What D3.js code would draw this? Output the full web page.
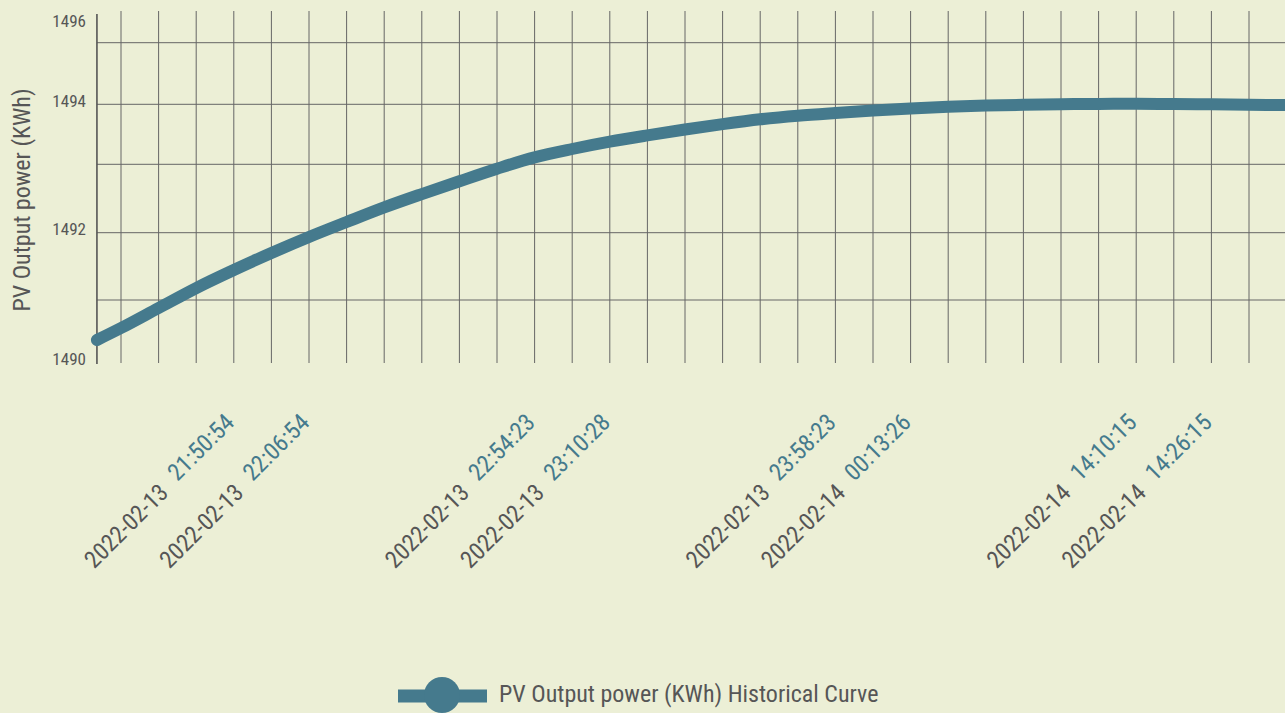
<!DOCTYPE html>
<html>
<head>
<meta charset="utf-8">
<script src="https://cdn.jsdelivr.net/npm/d3@7"></script>
<style>
  html, body { margin: 0; padding: 0; background: #ecefd6; overflow: hidden; }
  svg { display: block; font-family: "Roboto Condensed", Roboto, sans-serif; }
</style>
</head>
<body>
<svg width="1285" height="713"></svg>
<script>
const svg = d3.select('svg');

const width = +svg.attr('width');
const height = +svg.attr('height');

// samples along the category axis; the first one sits on the y axis, before the first tick
const sampleIdx = [-0.64, 0, 1, 2, 3, 4, 5, 6, 7, 8, 9, 10, 11, 12, 13, 14, 15,
  16, 17, 18, 19, 20, 21, 22, 23, 24, 25, 26, 27, 28, 29, 30, 31];
const power = [1490.355, 1490.548, 1490.871, 1491.178, 1491.446, 1491.698, 1491.936,
  1492.156, 1492.37, 1492.565, 1492.752, 1492.935, 1493.115, 1493.255, 1493.377,
  1493.482, 1493.58, 1493.67, 1493.75, 1493.81, 1493.855, 1493.895, 1493.93,
  1493.958, 1493.978, 1493.992, 1494.001, 1494.006, 1494.008, 1494.005, 1494.0,
  1493.993, 1493.987];

// labelled ticks
const labelIdx = [3, 5, 11, 13, 19, 21, 27, 29];
const labelDates = ['2022-02-13', '2022-02-13', '2022-02-13', '2022-02-13',
  '2022-02-13', '2022-02-14', '2022-02-14', '2022-02-14'];
const labelTimes = ['21:50:54', '22:06:54', '22:54:23', '23:10:28',
  '23:58:23', '00:13:26', '14:10:15', '14:26:15'];

const yTickValues = [1490, 1492, 1494, 1496];
const yGridValues = [1491, 1492, 1493, 1494, 1495];

const seriesName = 'PV Output power (KWh) Historical Curve';
const yTitle = 'PV Output power (KWh)';

const lineColor = '#457a8d';
const textColor = '#565656';
const gridColor = '#666';

const render = () => {
  const xScale = d3.scaleLinear()
    .domain([0, 30])
    .range([121, 1249]);

  // the grid rows are not quite evenly spaced in the original
  const yScale = d3.scaleLinear()
    .domain([1490, 1491, 1492, 1493, 1494, 1495, 1496])
    .range([362, 300, 232.7, 164.3, 104.3, 42.7, 24]);

  const left = xScale(sampleIdx[0]);

  // vertical grid
  svg.append('g').selectAll('line').data(d3.range(0, 31))
    .enter().append('line')
      .attr('x1', d => xScale(d))
      .attr('x2', d => xScale(d))
      .attr('y1', 11)
      .attr('y2', 363)
      .attr('stroke', gridColor)
      .attr('stroke-width', 1);

  // horizontal grid
  svg.append('g').selectAll('line').data(yGridValues)
    .enter().append('line')
      .attr('x1', left)
      .attr('x2', width)
      .attr('y1', d => yScale(d))
      .attr('y2', d => yScale(d))
      .attr('stroke', gridColor)
      .attr('stroke-width', 1);

  // y axis
  const yAxis = d3.axisLeft(yScale)
    .tickValues(yTickValues)
    .tickFormat(d3.format('d'))
    .tickSize(0)
    .tickPadding(11);

  const yAxisG = svg.append('g')
    .attr('transform', `translate(${left},0)`)
    .call(yAxis);
  yAxisG.select('.domain').remove();
  yAxisG.selectAll('text')
    .attr('font-size', 17)
    .attr('font-family', '"Roboto Condensed", Roboto, sans-serif')
    .attr('fill', textColor)
    .attr('dy', 2);

  svg.append('line')
    .attr('x1', left).attr('x2', left)
    .attr('y1', 14).attr('y2', 364)
    .attr('stroke', '#555')
    .attr('stroke-width', 1.6);

  svg.append('text')
    .attr('transform', `translate(30,200) rotate(-90)`)
    .attr('text-anchor', 'middle')
    .attr('font-size', 24)
    .attr('fill', textColor)
    .text(yTitle);

  // x labels
  const labels = svg.append('g').selectAll('text').data(labelIdx)
    .enter().append('text')
      .attr('transform', d => `translate(${xScale(d) + 4},426) rotate(-45)`)
      .attr('text-anchor', 'end')
      .attr('font-size', 24);
  labels.append('tspan')
    .attr('fill', textColor)
    .text((d, i) => labelDates[i]);
  labels.append('tspan')
    .attr('fill', lineColor)
    .attr('dx', 14)
    .attr('dy', -3)
    .text((d, i) => labelTimes[i]);

  // curve
  const points = sampleIdx.map((d, i) => ({ idx: d, value: power[i] }));
  const line = d3.line()
    .x(d => xScale(d.idx))
    .y(d => yScale(d.value))
    .curve(d3.curveMonotoneX);

  svg.append('path')
    .datum(points)
    .attr('d', line)
    .attr('fill', 'none')
    .attr('stroke', lineColor)
    .attr('stroke-width', 12)
    .attr('stroke-linecap', 'round')
    .attr('stroke-linejoin', 'round');

  // legend
  const legend = svg.append('g').attr('transform', 'translate(398,696)');
  legend.append('line')
    .attr('x1', 0).attr('x2', 89)
    .attr('stroke', lineColor)
    .attr('stroke-width', 13);
  legend.append('circle')
    .attr('cx', 44).attr('cy', -1)
    .attr('r', 18)
    .attr('fill', lineColor);
  legend.append('text')
    .attr('x', 101)
    .attr('y', 0)
    .attr('dominant-baseline', 'middle')
    .attr('font-size', 24)
    .attr('fill', textColor)
    .text(seriesName);
};

render();
</script>
</body>
</html>
